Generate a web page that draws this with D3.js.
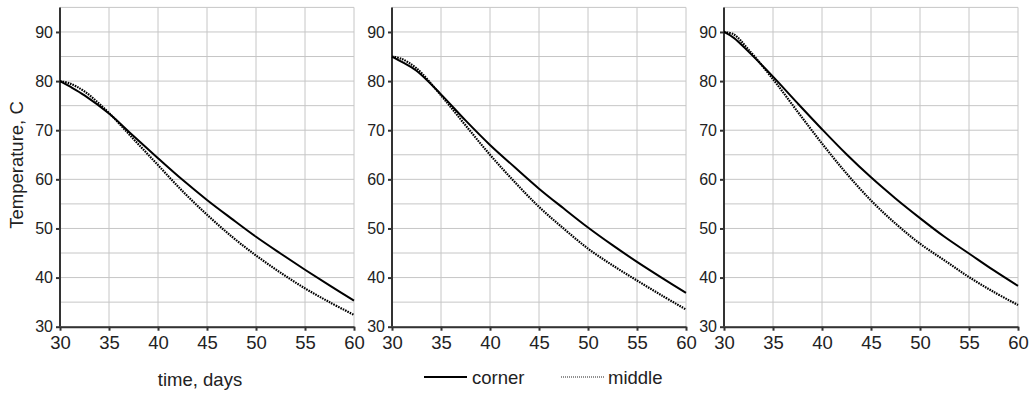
<!DOCTYPE html>
<html><head><meta charset="utf-8">
<script src="https://cdn.jsdelivr.net/npm/d3@7"></script>
<style>
html,body{margin:0;padding:0;background:#fff;}
svg{display:block;font-family:"Liberation Sans",Arial,sans-serif;}
</style></head>
<body><svg id="c" width="1030" height="394"></svg>
<script>
const days = [30, 31, 32.5, 35, 37.5, 40, 42.5, 45, 47.5, 50, 52.5, 55, 57.5, 60];
const corner1 = [80, 78.9, 77.1, 73.4, 68.8, 64.3, 59.9, 55.8, 52.0, 48.3, 44.9, 41.6, 38.4, 35.3];
const middle1 = [80, 79.5, 77.9, 73.5, 68.2, 62.9, 57.6, 52.8, 48.4, 44.5, 41.0, 37.8, 35.0, 32.4];
const corner2 = [85, 83.9, 82.1, 77.3, 72.0, 67.0, 62.5, 58.1, 54.1, 50.2, 46.6, 43.2, 40.0, 36.9];
const middle2 = [85, 84.5, 82.6, 77.1, 71.0, 65.0, 59.5, 54.4, 50.0, 45.9, 42.5, 39.4, 36.4, 33.5];
const corner3 = [90, 88.8, 86.0, 80.9, 75.5, 70.2, 65.1, 60.4, 56.1, 52.1, 48.3, 44.9, 41.5, 38.3];
const middle3 = [90, 89.5, 86.4, 80.4, 73.8, 67.3, 61.2, 55.7, 51.0, 46.9, 43.5, 40.1, 37.1, 34.4];
const xTicks = [30, 35, 40, 45, 50, 55, 60];
const yTicks = [30, 40, 50, 60, 70, 80, 90];
const yGrid = [30, 35, 40, 45, 50, 55, 60, 65, 70, 75, 80, 85, 90, 95];
const seriesNames = ["corner", "middle"];
const xTitle = "time, days";
const yTitle = "Temperature, C";

const panels = [
  {corner: corner1, middle: middle1},
  {corner: corner2, middle: middle2},
  {corner: corner3, middle: middle3}
];

const svg = d3.select("#c");
const left0 = 60, pw = 294, gap = 332;
const plotTop = 7.4, plotBottom = 326.7;
const y = d3.scaleLinear().domain([30, 95]).range([plotBottom, plotTop]);
const gridCol = "#c6c6c6", axisCol = "#333";

panels.forEach((p, i) => {
  const x0 = left0 + i * gap;
  const x = d3.scaleLinear().domain([30, 60]).range([x0, x0 + pw]);
  const g = svg.append("g");
  // grid
  g.selectAll(".vg").data(xTicks).join("line")
    .attr("x1", d => x(d)).attr("x2", d => x(d))
    .attr("y1", y(95)).attr("y2", y(30))
    .attr("stroke", gridCol).attr("stroke-width", 1);
  g.selectAll(".hg").data(yGrid).join("line")
    .attr("x1", x(30)).attr("x2", x(60))
    .attr("y1", d => y(d)).attr("y2", d => y(d))
    .attr("stroke", gridCol).attr("stroke-width", 1);
  // axes
  const xa = g.append("g").attr("transform", `translate(0,${y(30)})`)
    .call(d3.axisBottom(x).tickValues(xTicks).tickSizeInner(4).tickSizeOuter(0).tickPadding(5));
  xa.select(".domain").attr("stroke", axisCol).attr("stroke-width", 2);
  xa.selectAll(".tick line").attr("stroke", axisCol).attr("stroke-width", 2);
  xa.selectAll("text").attr("font-size", 18.5).attr("fill", "#222")
    .attr("font-family", "Liberation Sans, Arial, sans-serif");
  const ya = g.append("g").attr("transform", `translate(${x(30)},0)`)
    .call(d3.axisLeft(y).tickValues(yTicks).tickSizeInner(4).tickSizeOuter(0).tickPadding(3));
  ya.select(".domain").attr("stroke", axisCol).attr("stroke-width", 2)
    .attr("d", `M0,${y(95)}V${y(30)}`);
  ya.selectAll(".tick line").attr("stroke", axisCol).attr("stroke-width", 2);
  ya.selectAll("text").attr("font-size", 16).attr("fill", "#222")
    .attr("font-family", "Liberation Sans, Arial, sans-serif");
  // lines
  const line = d3.line().x((d, j) => x(days[j])).y(d => y(d)).curve(d3.curveCatmullRom.alpha(0.5));
  g.append("path").attr("d", line(p.middle)).attr("fill", "none")
    .attr("stroke", "#000").attr("stroke-width", 2.2).attr("stroke-dasharray", "1.6,1");
  g.append("path").attr("d", line(p.corner)).attr("fill", "none")
    .attr("stroke", "#000").attr("stroke-width", 2);
});

// titles
svg.append("text").attr("x", 200).attr("y", 386).attr("text-anchor", "middle")
  .attr("font-size", 18.5).attr("fill", "#222").text(xTitle);
svg.append("text").attr("transform", "translate(23,165) rotate(-90)").attr("text-anchor", "middle")
  .attr("font-size", 18.5).attr("fill", "#222").text(yTitle);

// legend
const lg = svg.append("g");
lg.append("line").attr("x1", 424).attr("x2", 467).attr("y1", 377).attr("y2", 377)
  .attr("stroke", "#000").attr("stroke-width", 2);
lg.append("text").attr("x", 472).attr("y", 383.5).attr("font-size", 18.5).attr("fill", "#222").text(seriesNames[0]);
lg.append("line").attr("x1", 561).attr("x2", 604).attr("y1", 377).attr("y2", 377)
  .attr("stroke", "#222").attr("stroke-width", 1.2).attr("stroke-dasharray", "1,1");
lg.append("text").attr("x", 608).attr("y", 383.5).attr("font-size", 18.5).attr("fill", "#222").text(seriesNames[1]);
</script></body></html>
